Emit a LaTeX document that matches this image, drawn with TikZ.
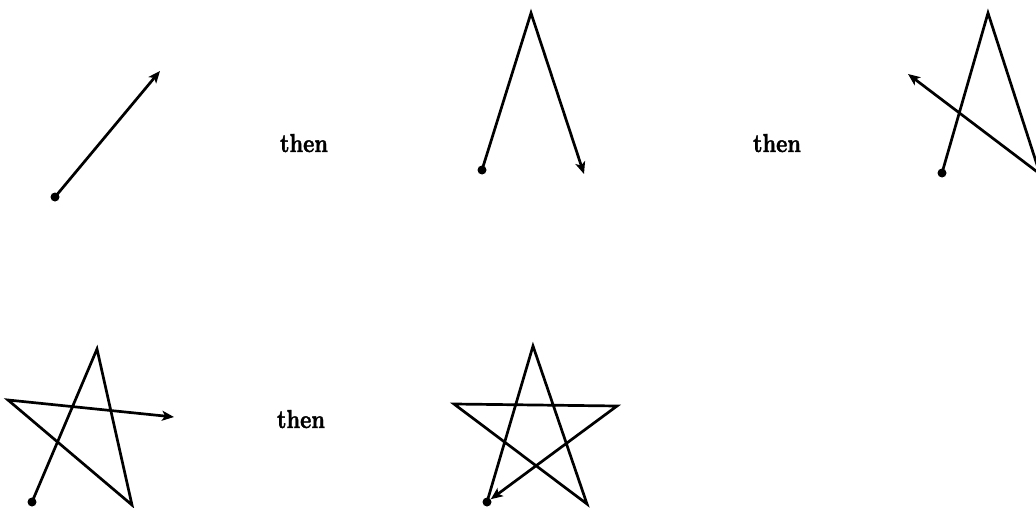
\documentclass[tikz,border=0pt]{standalone}
\usepackage{fontspec}
\usetikzlibrary{arrows.meta}
\newfontfamily\thenfont{lmroman10-bold.otf}[FakeBold=1.5]
\begin{document}
\begin{tikzpicture}[x=1pt,y=-1pt,
  stroke/.style={line width=2.7pt,line join=miter,line cap=round},
  arr/.style={stroke,-{Stealth[length=12pt,width=10pt,inset=3pt]}},
  startdot/.style={circle,fill=black,inner sep=0pt,minimum size=9pt},
  thenlabel/.style={anchor=base,font=\thenfont\fontsize{26}{31}\selectfont,inner sep=0pt,xscale=0.82}]
\clip (0,0) rectangle (1036,508);
\fill[white] (0,0) rectangle (1036,508);
% panel 1
\node[startdot] (d1) at (55,197) {};
\coordinate (t1) at (160,71);
\draw[arr] (d1.center) -- (t1);
\node[thenlabel] (then1) at (304,152) {then};
% panel 2
\node[startdot] (d2) at (482,170) {};
\coordinate (a2) at (531,13);
\coordinate (t2) at (584,174);
\draw[arr] (d2.center) -- (a2) -- (t2);
\node[thenlabel] (then2) at (777,152) {then};
% panel 3
\node[startdot] (d3) at (942,173) {};
\coordinate (a3) at (988,13);
\coordinate (b3) at (1040,174);
\coordinate (t3) at (908,74);
\draw[arr] (d3.center) -- (a3) -- (b3) -- (t3);
% panel 4
\node[startdot] (d4) at (32,502) {};
\coordinate (a4) at (97,349);
\coordinate (b4) at (132,505);
\coordinate (l4) at (8,400);
\coordinate (t4) at (174,417);
\draw[arr] (d4.center) -- (a4) -- (b4) -- (l4) -- (t4);
\node[thenlabel] (then3) at (301,428) {then};
% panel 5
\node[startdot] (d5) at (487,502) {};
\coordinate (a5) at (533,346);
\coordinate (b5) at (587,504);
\coordinate (l5) at (454,404);
\coordinate (r5) at (617,406);
\draw[arr] (d5.center) -- (a5) -- (b5) -- (l5) -- (r5) -- (d5);
\end{tikzpicture}
\end{document}
